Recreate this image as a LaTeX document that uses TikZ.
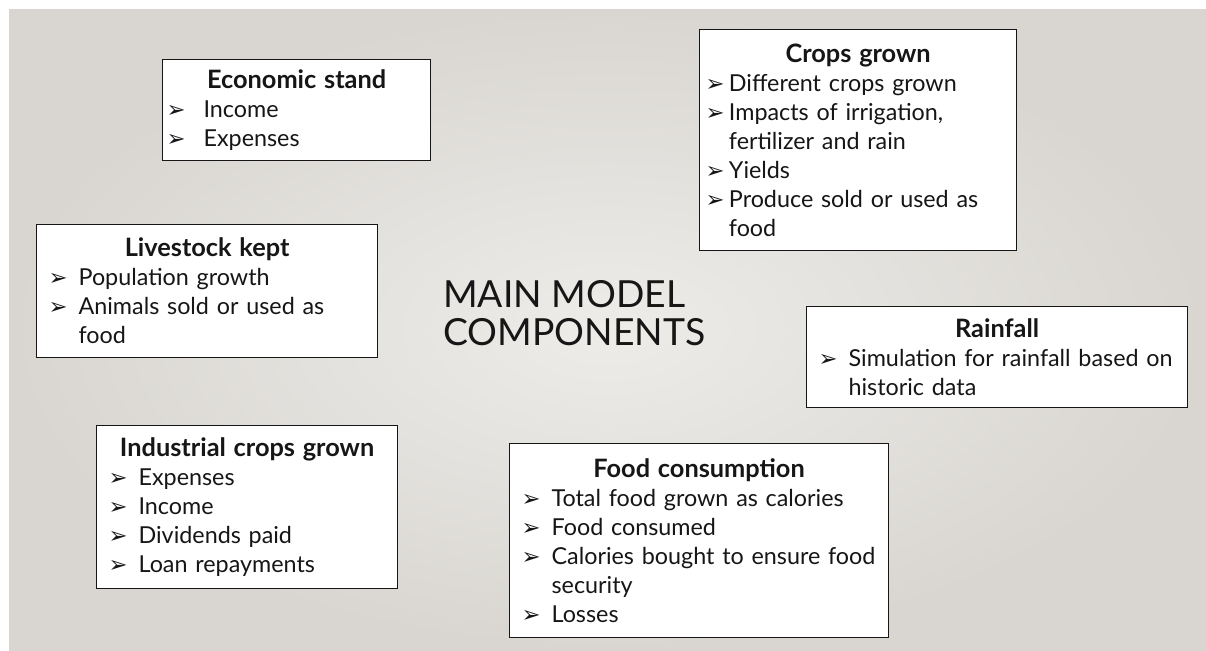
\documentclass[tikz,border=0pt]{standalone}
\usepackage{fontspec}
\setmainfont{Lato}
\newfontfamily\symfont{DejaVu Sans}
\usetikzlibrary{positioning}

\definecolor{slidein}{RGB}{237,236,233}
\definecolor{slideout}{RGB}{217,214,209}
\definecolor{inktext}{RGB}{22,22,22}

\newlength{\bulw}
\newcommand{\bul}{\makebox[\bulw][l]{\fontsize{17}{17}\symfont ➢}}
\newcommand{\itm}[1]{\par\hangindent=\bulw\hangafter=1\noindent\bul#1\par}
\newcommand{\hd}[1]{\makebox[\linewidth]{\fontsize{19}{21.75}\selectfont\bfseries #1}}

\tikzset{
  compbox/.style={draw=inktext, line width=0.9pt, fill=white, text=inktext,
    anchor=north west, align=left, inner ysep=0pt,
    font=\fontsize{17.5}{21.75}\selectfont},
  bul/.code={\setlength{\bulw}{#1}},
}

\begin{document}
\begin{tikzpicture}[x=0.75pt,y=-0.75pt]
  \useasboundingbox (0,0) rectangle (1206,650);
  \fill[white] (0,0) rectangle (1206,650);
  \shade[inner color=slidein, outer color=slideout] (9,9) rectangle (1206,650);

  \node[font=\fontsize{28}{28.5}\selectfont, text=inktext, anchor=base west, align=left, inner sep=0pt]
    (title) at (443,345) {MAIN MODEL\\COMPONENTS};

  \node[compbox, bul=27.75pt, inner xsep=3pt, text width=195pt, minimum height=75.75pt] (econ) at (162,59)
    {\hd{Economic stand}\itm{Income}\itm{Expenses}};

  \node[compbox, bul=17.5pt, inner xsep=4.5pt, text width=228.75pt, minimum height=165.75pt] (crops) at (699,29)
    {\hd{Crops grown}\itm{Different crops grown}\itm{Impacts of irrigation,\newline fertilizer and rain}%
     \itm{Yields}\itm{Produce sold or used as\newline food}};

  \node[compbox, bul=22.5pt, inner xsep=9pt, text width=237.75pt, minimum height=99.75pt] (stock) at (36,224)
    {\hd{Livestock kept}\itm{Population growth}\itm{Animals sold or used as\newline food}};

  \node[compbox, bul=22.5pt, inner xsep=9pt, text width=267.75pt, minimum height=75.75pt] (rain) at (806,306)
    {\hd{Rainfall}\itm{Simulation for rainfall based on\newline historic data}};

  \node[compbox, bul=22.5pt, inner xsep=9pt, text width=266.25pt, minimum height=145.5pt] (food) at (509,443)
    {\hd{Food consumption}\itm{Total food grown as calories}\itm{Food consumed}%
     \itm{Calories bought to ensure food\newline security}\itm{Losses}};

  \node[compbox, bul=22.5pt, inner xsep=9pt, text width=207.75pt, minimum height=122.25pt] (indus) at (96,425)
    {\hd{Industrial crops grown}\itm{Expenses}\itm{Income}\itm{Dividends paid}\itm{Loan repayments}};
\end{tikzpicture}
\end{document}
